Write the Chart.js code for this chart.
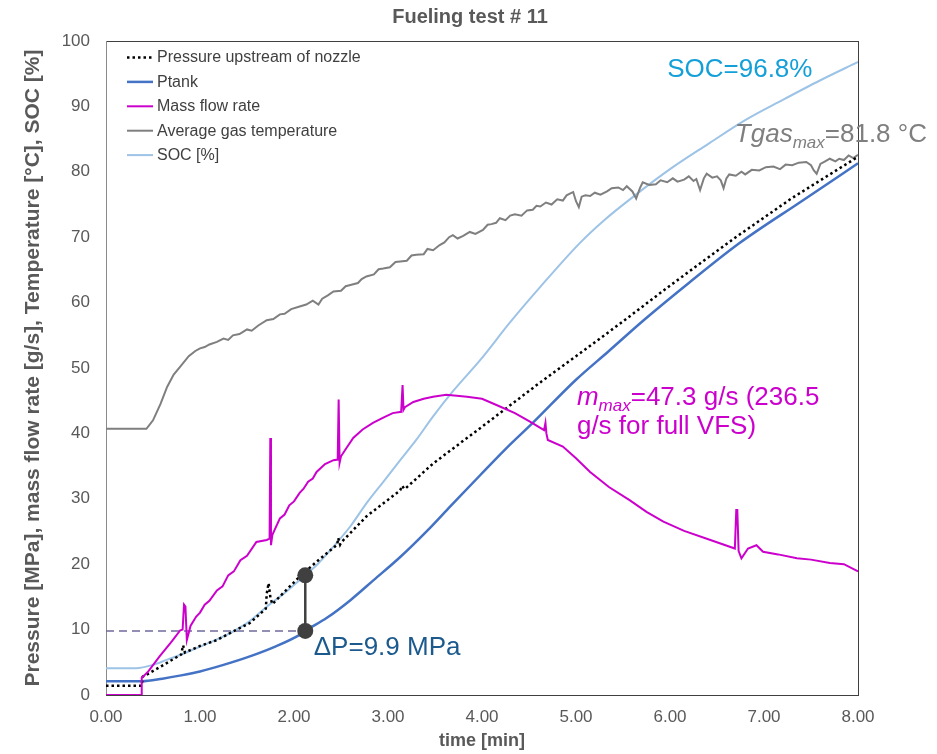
<!DOCTYPE html>
<html>
<head>
<meta charset="utf-8">
<script src="https://cdn.jsdelivr.net/npm/chart.js@4"></script>
<style>
  body { margin: 0; background: #fff; }
  #wrap { width: 937px; height: 754px; }
</style>
</head>
<body>
<div id="wrap"><canvas id="myChart" width="937" height="754"></canvas></div>
<script>
// tick labels
const xTicks = [0, 1, 2, 3, 4, 5, 6, 7, 8];
const yTicks = [0, 10, 20, 30, 40, 50, 60, 70, 80, 90, 100];

// pressure upstream of nozzle [MPa]
const upT = [0, 0.38, 0.39, 0.43, 0.6, 0.80, 0.82, 0.84, 1.0, 1.18, 1.35, 1.53, 1.70, 1.71, 1.73, 1.75, 1.77, 1.9, 2.06, 2.25, 2.46, 2.47, 2.49, 2.5, 2.77, 3.13, 3.15, 3.17, 3.18, 3.48, 3.98, 4.3, 4.62, 5.0, 5.47, 6.0, 6.71, 7.3, 8.0];
const upV = [1.4, 1.4, 2.8, 3.1, 4.5, 6.2, 7.6, 6.5, 7.5, 8.4, 9.7, 11.0, 13.2, 15.5, 17.1, 14.8, 13.9, 15.8, 18.1, 20.5, 23.0, 24.0, 23.0, 23.3, 27.3, 31.3, 32.0, 31.6, 31.5, 35.4, 40.8, 44.3, 47.8, 51.8, 56.8, 62.6, 70.1, 76.0, 82.3];

// Ptank [MPa]
const ptankT = [0, 0.38, 0.6, 0.8, 1.0, 1.25, 1.53, 1.8, 2.06, 2.12, 2.35, 2.6, 2.85, 3.13, 3.45, 3.66, 3.98, 4.25, 4.54, 5.0, 5.35, 5.72, 6.2, 6.74, 7.4, 8.0];
const ptankV = [2.1, 2.1, 2.5, 3.0, 3.6, 4.6, 5.9, 7.4, 9.2, 9.8, 11.8, 14.5, 17.6, 21.1, 25.6, 28.8, 33.6, 37.6, 41.6, 48.2, 52.6, 57.3, 63.0, 69.1, 75.5, 81.3];

// mass flow rate [g/s]
const flowT = [0, 0.38, 0.38, 0.45, 0.57, 0.7, 0.79, 0.815, 0.83, 0.845, 0.86, 0.9, 0.96, 1.0, 1.05, 1.1, 1.18, 1.24, 1.3, 1.36, 1.43, 1.5, 1.6, 1.71, 1.74, 1.748, 1.755, 1.77, 1.85, 1.9, 1.95, 2.0, 2.06, 2.1, 2.15, 2.2, 2.24, 2.33, 2.42, 2.465, 2.475, 2.485, 2.5, 2.56, 2.63, 2.73, 2.84, 2.95, 3.05, 3.14, 3.155, 3.165, 3.18, 3.27, 3.38, 3.48, 3.62, 3.84, 4.0, 4.16, 4.35, 4.51, 4.66, 4.675, 4.685, 4.7, 4.86, 5.0, 5.15, 5.35, 5.57, 5.75, 5.93, 6.15, 6.43, 6.69, 6.705, 6.716, 6.73, 6.76, 6.83, 6.92, 6.99, 7.15, 7.35, 7.5, 7.7, 7.85, 8.0];
const flowV = [0, 0, 2.6, 3.6, 5.9, 8.2, 9.9, 10.0, 13.8, 13.5, 8.4, 10.6, 12.0, 12.6, 13.8, 14.4, 16.0, 16.6, 18.3, 18.9, 20.6, 21.3, 23.4, 23.7, 23.9, 39.3, 22.9, 24.5, 27.0, 27.6, 29.0, 29.6, 30.9, 31.5, 32.6, 33.1, 34.1, 35.3, 35.9, 36.0, 45.2, 35.5, 36.5, 37.8, 39.3, 40.6, 41.6, 42.4, 43.1, 43.3, 47.4, 43.6, 44.0, 44.8, 45.3, 45.6, 45.9, 45.6, 45.3, 44.3, 43.1, 41.8, 40.5, 41.6, 40.0, 39.0, 38.0, 36.2, 34.1, 31.8, 29.8, 28.0, 26.5, 25.1, 23.7, 22.4, 28.3, 28.3, 22.0, 20.9, 22.4, 22.9, 21.9, 21.5, 20.9, 20.7, 20.2, 20.0, 18.9];

// average gas temperature [°C]
const tempT = [0, 0.43, 0.50, 0.58, 0.65, 0.72, 0.79, 0.88, 0.95, 1.0, 1.05, 1.1, 1.18, 1.25, 1.3, 1.35, 1.42, 1.5, 1.55, 1.62, 1.71, 1.78, 1.85, 1.9, 1.97, 2.06, 2.13, 2.2, 2.26, 2.3, 2.36, 2.42, 2.5, 2.55, 2.6, 2.68, 2.72, 2.77, 2.85, 2.9, 2.95, 3.02, 3.08, 3.13, 3.2, 3.25, 3.3, 3.38, 3.42, 3.48, 3.55, 3.6, 3.65, 3.69, 3.74, 3.8, 3.87, 3.93, 4.01, 4.06, 4.1, 4.15, 4.19, 4.25, 4.3, 4.35, 4.42, 4.48, 4.54, 4.58, 4.62, 4.68, 4.74, 4.8, 4.86, 4.9, 4.94, 4.97, 5.0, 5.03, 5.06, 5.1, 5.15, 5.2, 5.26, 5.33, 5.38, 5.45, 5.5, 5.54, 5.6, 5.64, 5.68, 5.71, 5.78, 5.85, 5.9, 5.97, 6.03, 6.08, 6.15, 6.2, 6.25, 6.28, 6.32, 6.36, 6.39, 6.45, 6.5, 6.54, 6.57, 6.6, 6.63, 6.7, 6.76, 6.8, 6.87, 6.95, 7.02, 7.10, 7.17, 7.23, 7.3, 7.37, 7.45, 7.5, 7.53, 7.56, 7.6, 7.65, 7.70, 7.76, 7.8, 7.85, 7.9, 7.95, 8.0];
const tempV = [40.7, 40.7, 42.0, 44.5, 47.1, 49.0, 50.2, 51.8, 52.6, 53.0, 53.2, 53.6, 54.0, 54.5, 54.3, 55.0, 55.2, 55.9, 55.7, 56.5, 57.3, 57.5, 58.2, 58.3, 59.0, 59.4, 59.7, 60.3, 59.7, 60.6, 61.1, 61.7, 61.8, 62.5, 62.7, 63.0, 63.6, 64.0, 64.3, 65.1, 65.2, 65.4, 66.2, 66.3, 66.4, 67.2, 67.3, 67.4, 68.2, 68.0, 68.8, 69.2, 70.0, 70.3, 69.8, 70.2, 70.8, 70.5, 71.1, 71.9, 72.0, 72.2, 72.9, 72.6, 73.3, 73.5, 73.3, 74.1, 74.2, 74.8, 74.7, 75.3, 75.0, 75.8, 75.6, 76.4, 76.7, 76.9, 75.5, 74.6, 76.2, 76.4, 76.3, 76.8, 76.5, 77.0, 77.5, 77.6, 77.2, 77.8, 77.0, 75.9, 77.5, 78.4, 78.0, 78.1, 78.7, 78.4, 79.0, 78.5, 78.8, 79.3, 78.6, 78.9, 77.2, 79.0, 79.7, 79.1, 79.3, 78.7, 77.5, 79.0, 79.6, 79.4, 80.0, 79.6, 80.3, 80.2, 80.7, 80.8, 80.4, 81.1, 81.0, 81.4, 81.5, 81.0, 80.2, 79.7, 81.2, 81.6, 82.0, 81.6, 82.0, 81.8, 82.5, 82.1, 82.6];

// SOC [%]
const socT = [0, 0.32, 0.5, 0.65, 0.8, 1.0, 1.18, 1.35, 1.53, 1.71, 1.9, 2.06, 2.25, 2.42, 2.6, 2.77, 2.95, 3.13, 3.3, 3.48, 3.7, 3.98, 4.3, 4.62, 5.04, 5.3, 5.61, 6.0, 6.4, 6.8, 7.2, 7.6, 8.0];
const socV = [4.1, 4.1, 4.6, 5.4, 6.2, 7.4, 8.5, 9.7, 11.3, 13.5, 15.6, 17.6, 20.0, 22.7, 25.8, 29.3, 32.6, 35.9, 39.0, 42.6, 46.6, 51.2, 57.0, 62.4, 69.1, 72.6, 76.2, 80.4, 84.2, 87.9, 91.0, 94.0, 96.8];

// delta P markers + dashed guide
const markT = [2.12, 2.12];
const markV = [18.3, 9.8];
const guideT = [0, 2.12];
const guideV = [9.8, 9.8];

const pts = (ts, vs) => ts.map((t, i) => ({ x: t, y: vs[i] }));

const FONT = "'Liberation Sans', Arial, sans-serif";

// legend drawn inside the plot area, top left
const innerLegend = {
  id: 'innerLegend',
  afterDraw(chart) {
    const ctx = chart.ctx;
    const a = chart.chartArea;
    ctx.save();
    ctx.font = '16px ' + FONT;
    ctx.textBaseline = 'middle';
    ctx.fillStyle = '#404040';
    chart.data.datasets.slice(0, 5).forEach((ds, i) => {
      const yy = a.top + 16.5 + i * 24.4;
      ctx.beginPath();
      ctx.strokeStyle = ds.borderColor;
      ctx.lineWidth = ds.borderWidth;
      ctx.setLineDash(ds.borderDash || []);
      ctx.moveTo(a.left + 21, yy);
      ctx.lineTo(a.left + 47, yy);
      ctx.stroke();
      ctx.setLineDash([]);
      ctx.fillText(ds.label, a.left + 51, yy + 0.5);
    });
    ctx.restore();
  }
};

// box round the plot area
const frame = {
  id: 'frame',
  beforeDatasetsDraw(chart) {
    const ctx = chart.ctx;
    const a = chart.chartArea;
    ctx.save();
    ctx.lineWidth = 1;
    ctx.strokeStyle = '#404040';
    ctx.strokeRect(a.left + 0.5, a.top + 0.5, a.right - a.left, a.bottom - a.top);
    ctx.strokeStyle = '#8a8a8a';
    ctx.beginPath();
    ctx.moveTo(a.left + 0.5, a.top);
    ctx.lineTo(a.left + 0.5, a.bottom);
    ctx.stroke();
    ctx.restore();
  }
};

// draws runs of text with different fonts / offsets
function richText(ctx, x, y, parts) {
  let cx = x;
  parts.forEach(p => {
    ctx.font = p.font;
    ctx.fillStyle = p.color;
    ctx.fillText(p.text, cx, y + (p.dy || 0));
    cx += ctx.measureText(p.text).width;
  });
}

const notes = {
  id: 'notes',
  afterDraw(chart) {
    const ctx = chart.ctx;
    const x = chart.scales.x, y = chart.scales.y;
    ctx.save();
    ctx.textBaseline = 'alphabetic';

    // title
    ctx.font = 'bold 20px ' + FONT;
    ctx.fillStyle = '#595959';
    ctx.textAlign = 'center';
    ctx.fillText('Fueling test # 11', 470, 23);
    ctx.textAlign = 'left';

    const big = '26px ' + FONT;
    const bigI = 'italic 26px ' + FONT;
    const sub = 'italic 17px ' + FONT;

    richText(ctx, x.getPixelForValue(5.97), y.getPixelForValue(94.5), [
      { text: 'SOC=96.8%', font: big, color: '#139fd8' }
    ]);
    richText(ctx, x.getPixelForValue(6.69), y.getPixelForValue(84.6), [
      { text: 'Tgas', font: bigI, color: '#7f7f7f' },
      { text: 'max', font: sub, color: '#7f7f7f', dy: 6 },
      { text: '=81.8 °C', font: big, color: '#7f7f7f' }
    ]);
    richText(ctx, x.getPixelForValue(5.01), y.getPixelForValue(44.3), [
      { text: 'm', font: bigI, color: '#cc00cc' },
      { text: 'max', font: sub, color: '#cc00cc', dy: 6 },
      { text: '=47.3 g/s (236.5', font: big, color: '#cc00cc' }
    ]);
    richText(ctx, x.getPixelForValue(5.01), y.getPixelForValue(39.9), [
      { text: 'g/s for full VFS)', font: big, color: '#cc00cc' }
    ]);
    richText(ctx, x.getPixelForValue(2.21), y.getPixelForValue(6.1), [
      { text: 'ΔP=9.9 MPa', font: big, color: '#1c5a8e' }
    ]);
    ctx.restore();
  }
};

const ctx = document.getElementById('myChart').getContext('2d');

new Chart(ctx, {
  type: 'line',
  data: {
    datasets: [
      {
        label: 'Pressure upstream of nozzle',
        data: pts(upT, upV),
        borderColor: '#000000',
        borderWidth: 2.5,
        borderDash: [2.5, 3],
        order: 1
      },
      {
        label: 'Ptank',
        data: pts(ptankT, ptankV),
        borderColor: '#4472c4',
        borderWidth: 2.5,
        cubicInterpolationMode: 'monotone',
        order: 2
      },
      {
        label: 'Mass flow rate',
        data: pts(flowT, flowV),
        borderColor: '#cc00cc',
        borderWidth: 2,
        order: 0
      },
      {
        label: 'Average gas temperature',
        data: pts(tempT, tempV),
        borderColor: '#7f7f7f',
        borderWidth: 2,
        order: 3
      },
      {
        label: 'SOC [%]',
        data: pts(socT, socV),
        borderColor: '#9dc3e6',
        borderWidth: 2,
        cubicInterpolationMode: 'monotone',
        order: 4
      },
      {
        label: 'guide',
        data: pts(guideT, guideV),
        borderColor: '#6f6a9c',
        borderWidth: 1.5,
        borderDash: [8, 5],
        order: 5
      },
      {
        label: 'dP',
        data: pts(markT, markV),
        borderColor: '#404040',
        backgroundColor: '#404040',
        borderWidth: 2.5,
        pointRadius: 8,
        pointBorderWidth: 0,
        order: -1
      }
    ]
  },
  options: {
    responsive: false,
    animation: false,
    elements: { point: { radius: 0 }, line: { tension: 0, fill: false } },
    layout: { padding: { top: 41, right: 79, left: 0, bottom: 0 } },
    plugins: {
      legend: { display: false },
      tooltip: { enabled: false },
      title: { display: false }
    },
    scales: {
      x: {
        type: 'linear',
        min: 0,
        max: 8,
        afterFit: s => { s.height = 59; },
        afterBuildTicks: s => { s.ticks = xTicks.map(v => ({ value: v })); },
        grid: { display: false, drawTicks: false },
        border: { display: false },
        ticks: {
          color: '#595959',
          font: { family: FONT, size: 17 },
          padding: 12,
          maxRotation: 0,
          callback: v => v.toFixed(2)
        },
        title: {
          display: true,
          text: 'time [min]',
          color: '#595959',
          font: { family: FONT, size: 18, weight: 'bold' },
          padding: { top: 0, bottom: 2 }
        }
      },
      y: {
        min: 0,
        max: 100,
        afterFit: s => { s.width = 106; },
        afterBuildTicks: s => { s.ticks = yTicks.map(v => ({ value: v })); },
        grid: { display: false, drawTicks: false },
        border: { display: false },
        ticks: {
          color: '#595959',
          font: { family: FONT, size: 17 },
          padding: 16
        },
        title: {
          display: true,
          text: 'Pressure [MPa], mass flow rate [g/s], Temperature [°C], SOC [%]',
          color: '#595959',
          font: { family: FONT, size: 21, weight: 'bold' },
          padding: { top: 21, bottom: 0 }
        }
      }
    }
  },
  plugins: [frame, innerLegend, notes]
});
</script>
</body>
</html>
